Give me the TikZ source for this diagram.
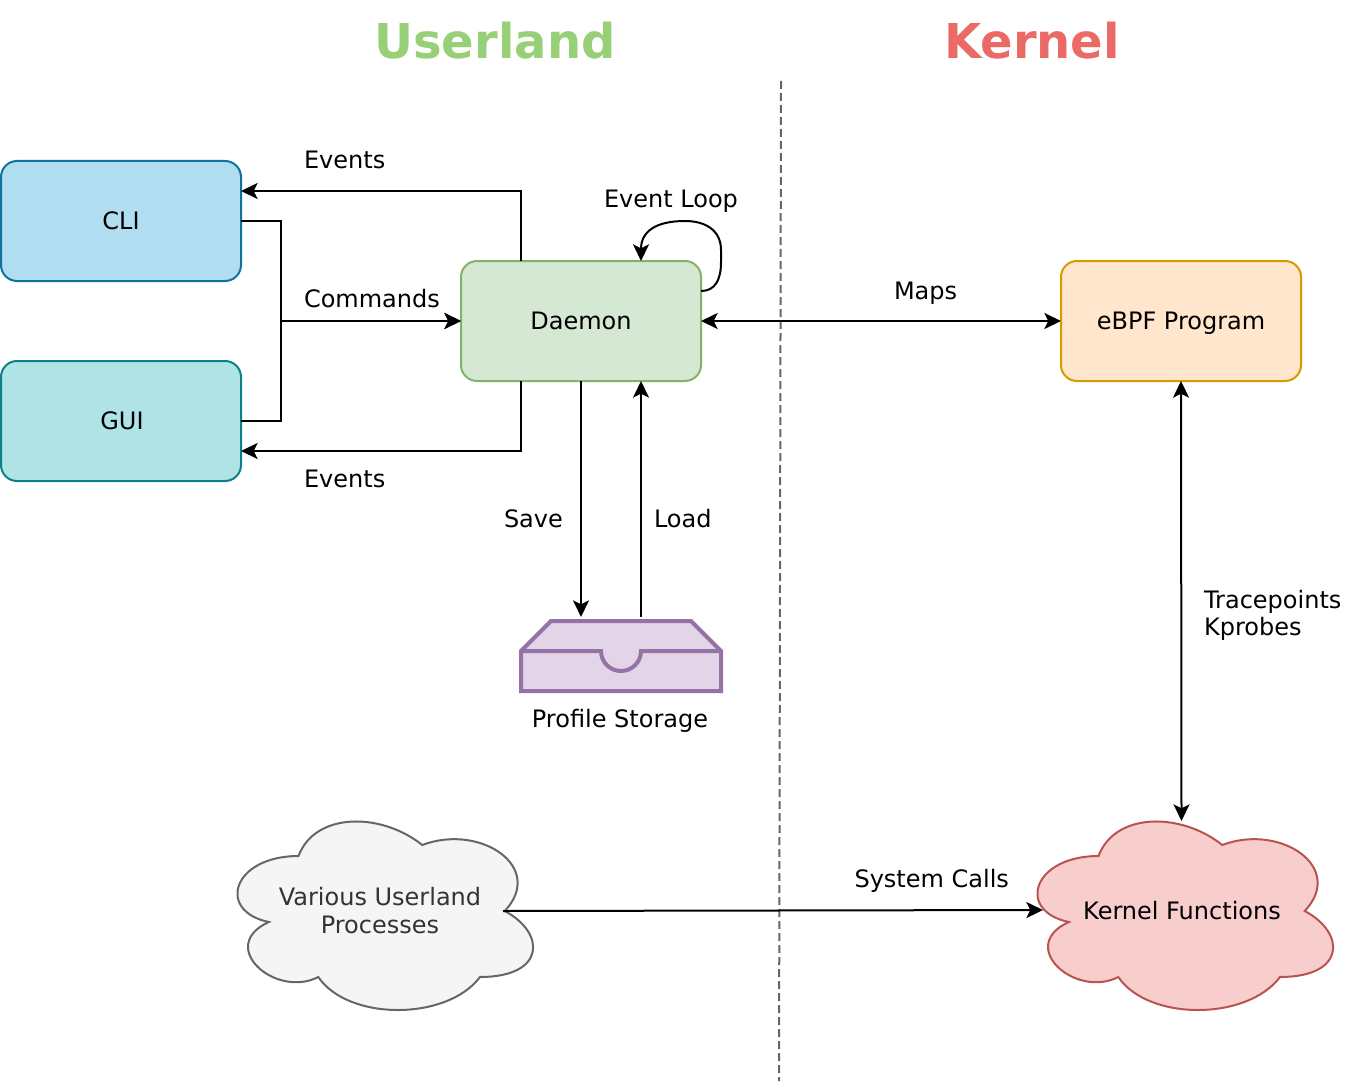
\documentclass[tikz,border=0pt]{standalone}
\usepackage{fontspec}
\setmainfont{DejaVu Sans}
\usetikzlibrary{arrows.meta,calc}
\definecolor{userlandTitle}{HTML}{97D077}
\definecolor{kernelTitle}{HTML}{EA6B66}
\definecolor{cliFill}{HTML}{B1DDF0}
\definecolor{cliLine}{HTML}{10739E}
\definecolor{guiFill}{HTML}{B0E3E6}
\definecolor{guiLine}{HTML}{0E8088}
\definecolor{daemonFill}{HTML}{D5E8D4}
\definecolor{daemonLine}{HTML}{82B366}
\definecolor{ebpfFill}{HTML}{FFE6CC}
\definecolor{ebpfLine}{HTML}{D79B00}
\definecolor{storageFill}{HTML}{E1D5E7}
\definecolor{storageLine}{HTML}{9673A6}
\definecolor{kernelFill}{HTML}{F8CECC}
\definecolor{kernelLine}{HTML}{B85450}
\definecolor{variousFill}{HTML}{F5F5F5}
\definecolor{variousLine}{HTML}{666666}
\definecolor{variousText}{HTML}{333333}
\tikzset{
  box/.style={draw,line width=1.5pt,rounded corners=12pt,minimum width=180pt,minimum height=90pt,inner sep=0pt,outer sep=0pt,text height=17.4pt,text depth=4.3pt},
  link/.style={line width=1.5pt,->},
  both/.style={line width=1.5pt,<->},
  lbl/.style={inner sep=0pt,outer sep=0pt,align=left},
  title/.style={inner sep=0pt,outer sep=0pt,font=\fontsize{36}{40}\selectfont\bfseries},
  >={Stealth[length=12.5pt,width=12pt,inset=3pt]}
}
% Cloud outline: style, left edge, top edge
\newcommand{\drawcloud}[3]{%
  \draw [#1,line width=1.5pt,shift={(#2,#3)},xscale=3.3,yscale=2.2] (25,25)
    .. controls (5,25) and (0,50) .. (16,55)
    .. controls (0,66) and (18,90) .. (31,80)
    .. controls (40,100) and (70,100) .. (80,80)
    .. controls (100,80) and (100,60) .. (87.5,50)
    .. controls (100,30) and (80,10) .. (62.5,20)
    .. controls (50,5) and (30,5) .. (25,25) -- cycle;%
}
\begin{document}
\begin{tikzpicture}[x=0.75pt,y=-0.75pt]
  \useasboundingbox (0,0) rectangle (1362,1084);
  {\fontsize{18}{20.6}\selectfont

  % Marking titles
  \draw (495,59) node [title,anchor=base,text=userlandTitle] (userlandTitleNode) {Userland};%
  \draw (1032,59) node [title,anchor=base,text=kernelTitle] (kernelTitleNode) {Kernel};%

  % Drawing divider
  \coordinate (dividerTop) at (781,81);
  \coordinate (dividerBottom) at (779,1081);
  \draw [line width=1.5pt,variousLine,dash pattern=on 6pt off 3pt] (dividerTop) -- (dividerBottom);%

  % Marking boxes
  \draw (121,221) node [box,draw=cliLine,fill=cliFill] (cli) {CLI};%
  \draw (121,421) node [box,draw=guiLine,fill=guiFill] (gui) {\hspace{1.5pt}GUI};%
  \draw (581,321) node [box,draw=daemonLine,fill=daemonFill] (daemon) {Daemon};%
  \draw (1181,321) node [box,draw=ebpfLine,fill=ebpfFill] (ebpf) {eBPF Program};%

  % Drawing storage tray
  \draw [line width=3pt,draw=storageLine,fill=storageFill,line join=miter]
    (521,651) -- (551,621) -- (691,621) -- (721,651) -- (721,691) -- (521,691) -- cycle;%
  \draw [line width=3pt,draw=storageLine] (521,651) -- (601,651) arc [start angle=180,end angle=0,radius=20] -- (721,651);%
  \coordinate (storageIn) at (581,617);
  \coordinate (storageOut) at (641,617);
  \draw (620,727) node [lbl,anchor=base] (storageText) {Profile Storage};%

  % Drawing clouds
  \drawcloud{draw=variousLine,fill=variousFill}{216}{801}%
  \drawcloud{draw=kernelLine,fill=kernelFill}{1016}{801}%
  \draw (380,910.5) node [lbl,align=center,text=variousText] (various) {Various Userland\\Processes};%
  \draw (1182,911) node [lbl] (kernel) {Kernel Functions};%

  % Drawing Daemon to CLI and GUI
  \draw [link] ($(daemon.north)+(-60,0)$) |- ($(cli.north east)+(0,30)$);%
  \draw [link] ($(daemon.south)+(-60,0)$) |- ($(gui.south east)+(0,-30)$);%

  % Drawing CLI and GUI to Daemon
  \draw [link] (cli.east) -- ++(40,0) |- (daemon.west);%
  \draw [link] (gui.east) -- ++(40,0) |- (daemon.west);%

  % Drawing event loop
  \draw [link] ($(daemon.north east)+(0,30)$)
    .. controls (715,291) and (721,280) .. (721,262) -- (721,250)
    .. controls (721,230) and (705,221) .. (685,221)
    .. controls (655,221) and (641,232) .. ($(daemon.north)+(60,0)$);%

  % Drawing save and load
  \draw [link] (daemon.south) -- (storageIn);%
  \draw [link] (storageOut) -- (storageOut |- daemon.south);%

  % Drawing Daemon to eBPF and eBPF to Kernel
  \draw [both] (daemon.east) -- (ebpf.west);%
  \draw [both] (ebpf.south) -- ($(kernel)+(-0.5,-90)$);%

  % Drawing system calls
  \draw [link] ($(various)+(123,0.5)$) -- ($(kernel)+(-139,-1)$);%

  % Marking labels
  \draw (304,168.5) node [lbl,anchor=base west] (eventsCli) {Events};%
  \draw (304,487.5) node [lbl,anchor=base west] (eventsGui) {Events};%
  \draw (304,307) node [lbl,anchor=base west] (commands) {Commands};%
  \draw (604,208) node [lbl,anchor=base west] (eventLoop) {Event Loop};%
  \draw (894,299) node [lbl,anchor=base west] (maps) {Maps};%
  \draw (504,527) node [lbl,anchor=base west] (save) {Save};%
  \draw (654,527) node [lbl,anchor=base west] (load) {Load};%
  \draw (1204,608) node [lbl,anchor=base west] (tracepoints) {Tracepoints};%
  \draw (1204,635) node [lbl,anchor=base west] (kprobes) {Kprobes};%
  \draw (854.5,887) node [lbl,anchor=base west] (systemCalls) {System Calls};%
  }
\end{tikzpicture}
\end{document}
